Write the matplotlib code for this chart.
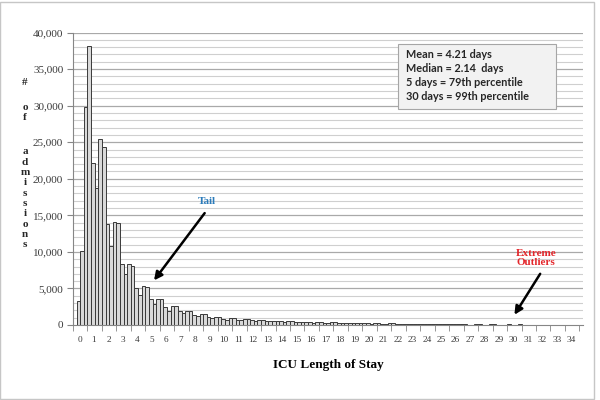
import matplotlib
matplotlib.use("Agg")
import matplotlib.pyplot as plt
import matplotlib.patches as mpatches
from matplotlib.ticker import FuncFormatter
import numpy as np

# admissions per quarter-day bin of ICU length of stay
counts = [
    3300, 10100, 29800, 38100,   # day 0
    22200, 18700, 25400, 24300,  # day 1
    13800, 10800, 14100, 13900,  # day 2
    8300, 7000, 8400, 8100,      # day 3
    5000, 4100, 5300, 5200,      # day 4
    3500, 2900, 3550, 3550,      # day 5
    2450, 1950, 2600, 2600,      # day 6
    1850, 1600, 1900, 1950,      # day 7
    1400, 1250, 1500, 1500,      # day 8
    1050, 900, 1150, 1150,       # day 9
    850, 750, 950, 950,          # day 10
    750, 650, 800, 800,          # day 11
    650, 550, 700, 700,          # day 12
    560, 480, 600, 600,          # day 13
    480, 420, 520, 520,          # day 14
    430, 380, 460, 450,          # day 15
    380, 330, 400, 400,          # day 16
    340, 290, 360, 360,          # day 17
    300, 260, 320, 310,          # day 18
    260, 230, 280, 270,          # day 19
    230, 200, 250, 240,          # day 20
    200, 180, 220, 210,          # day 21
    180, 150, 190, 180,          # day 22
    160, 130, 170, 160,          # day 23
    140, 120, 150, 140,          # day 24
    120, 100, 130, 120,          # day 25
    110, 90, 110, 100,           # day 26
    0, 0, 120, 110,              # day 27
    0, 0, 110, 100,              # day 28
    0, 0, 0, 110,                # day 29
    0, 0, 100, 0,                # day 30
]
bin_width = 0.25
day_labels = [str(d) for d in range(35)]
y_ticks = [0, 5000, 10000, 15000, 20000, 25000, 30000, 35000, 40000]

stats_lines = [
    "Mean = 4.21 days",
    "Median = 2.14  days",
    "5 days = 79th percentile",
    "30 days = 99th percentile",
]

bin_start = np.arange(len(counts)) * bin_width

fig = plt.figure(figsize=(6, 4), dpi=100)
ax = fig.add_axes([73 / 600, 75 / 400, 510 / 600, 292.5 / 400])

# chart border
fig.patches.append(mpatches.Rectangle((0.0, 0.0025), 594 / 600, 0.9925,
                                      transform=fig.transFigure, fill=False,
                                      edgecolor="#c6c6c6", linewidth=1.0))

# gridlines every 1,000
for yv in range(1000, 40001, 1000):
    if yv % 5000 == 0:
        ax.axhline(yv, color="#a9a9a9", linewidth=0.9, zorder=0)
    else:
        ax.axhline(yv, color="#cfcfcf", linewidth=0.8, zorder=0)

ax.bar(bin_start, counts, width=bin_width, align="edge", color="#d9d9d9",
       edgecolor="#3a3a3a", linewidth=0.7, zorder=2)

ax.set_xlim(-0.25, 35.0)
ax.set_ylim(0, 40000)

ax.set_yticks(y_ticks)
ax.yaxis.set_major_formatter(FuncFormatter(lambda v, p: f"{int(v):,}"))
ax.tick_params(axis="y", direction="out", length=4, color="#868686",
               labelsize=8, labelcolor="#3a3a3a", pad=3)
for lab in ax.get_yticklabels():
    lab.set_family("Liberation Serif")

ax.set_xticks(np.arange(35) + 0.2)
ax.set_xticklabels(day_labels, family="Liberation Serif", fontsize=6.7,
                   color="#3a3a3a")
ax.tick_params(axis="x", length=0, pad=8)
ax.set_xticks(np.arange(36) - 0.25, minor=True)
ax.tick_params(axis="x", which="minor", direction="out", length=4,
               color="#868686")

for side in ["top", "right"]:
    ax.spines[side].set_visible(False)
for side in ["left", "bottom"]:
    ax.spines[side].set_color("#868686")

ax.set_xlabel("ICU Length of Stay", family="Liberation Serif",
              fontweight="bold", fontsize=9.5, labelpad=11)

# stacked y-axis label
ylabel_chars = ["#", "o", "f", "a", "d", "m", "i", "s", "s", "i", "o", "n", "s"]
ylabel_base = [85, 110, 120.5, 154.5, 164.8, 175.1, 185.4, 195.7, 206, 216.3,
               226.6, 236.9, 247.2]
for ch, yb in zip(ylabel_chars, ylabel_base):
    fig.text(25 / 600, 1 - yb / 400, ch, ha="center", va="baseline",
             family="Liberation Serif", fontweight="bold", fontsize=8,
             color="#262626")

# annotations
ax.annotate("", xy=(5.35, 6100), xytext=(8.85, 15300),
            arrowprops=dict(arrowstyle="-|>", color="black", lw=1.8,
                            mutation_scale=12, shrinkA=0, shrinkB=0))
ax.text(8.99, 16830, "Tail", ha="center", va="center", color="#2b7bba",
        family="Liberation Serif", fontweight="bold", fontsize=8)

ax.annotate("", xy=(30.26, 1400), xytext=(32.04, 7000),
            arrowprops=dict(arrowstyle="-|>", color="black", lw=1.8,
                            mutation_scale=12, shrinkA=0, shrinkB=0))
ax.text(31.76, 9150, "Extreme\nOutliers", ha="center", va="center",
        color="#e3262b", family="Liberation Serif", fontweight="bold",
        fontsize=8, linespacing=1.05)

# statistics box
ax.add_patch(mpatches.Rectangle((22.22, 29480), 10.93, 9010,
                                facecolor="#f2f2f2", edgecolor="#a6a6a6",
                                linewidth=0.8, zorder=5))
stats_y = [36990, 35080, 33170, 31260]
for line, yv in zip(stats_lines, stats_y):
    ax.text(22.77, yv, line, ha="left", va="center", family="Lato",
            fontweight="bold", fontsize=7.8, color="#262626", zorder=6)

fig.savefig("out.png", dpi=100)
